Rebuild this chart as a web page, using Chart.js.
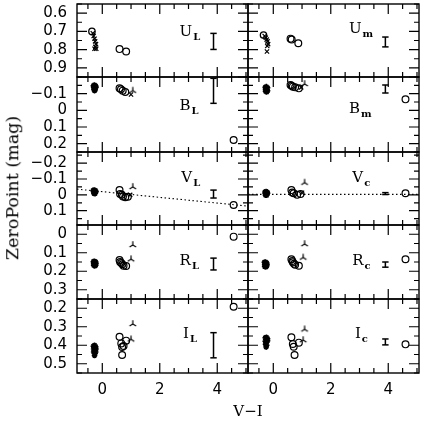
<!DOCTYPE html>
<html>
<head>
<meta charset="utf-8">
<script src="https://cdn.jsdelivr.net/npm/chart.js@4.4.0/dist/chart.umd.min.js"></script>
<style>
  body { margin: 0; background: #fff; }
  #wrap { position: relative; width: 423px; height: 423px; background: #fff; overflow: hidden; }
  #wrap canvas { position: absolute; left: 0; top: 0; }
  .ytitle { position: absolute; left: 13px; top: 188px; width: 0; height: 0; }
  .ytitle span { position: absolute; left: 0; top: 0; transform: translate(-50%, -50%) rotate(-90deg);
                 font: 17.5px/1 "DejaVu Serif"; white-space: nowrap; color: #000; }
  .xtitle { position: absolute; left: 248px; top: 411px; transform: translate(-50%, -50%);
            font: 15px/1 "DejaVu Serif"; white-space: nowrap; color: #000; }
</style>
</head>
<body>
<div id="wrap">
  <div class="ytitle"><span>ZeroPoint (mag)</span></div>
  <div class="xtitle">V−I</div>
</div>
<script>
// ---- data ----
const xRange = [-0.88, 5.07];
const xTicks = [0, 2, 4];

const bands = ['U', 'B', 'V', 'R', 'I'];
const yRanges = { U: [0.55, 0.95], B: [-0.2, 0.25], V: [-0.27, 0.19], R: [-0.05, 0.35], I: [0.15, 0.55] };
const yTicks = {
  U: [0.6, 0.7, 0.8, 0.9],
  B: [-0.1, 0, 0.1, 0.2],
  V: [-0.2, -0.1, 0, 0.1],
  R: [0, 0.1, 0.2, 0.3],
  I: [0.2, 0.3, 0.4, 0.5]
};
const leftNames = ['L', 'L', 'L', 'L', 'L'];
const rightNames = ['m', 'm', 'c', 'c', 'c'];

// per panel: stars (dense cluster), cross, ring, circ, tri, out, err [x, y, half], fit
const UL = {
  cross: [[-0.33, 0.71], [-0.3, 0.725], [-0.27, 0.74], [-0.25, 0.755], [-0.22, 0.77], [-0.24, 0.785], [-0.27, 0.795], [-0.21, 0.795]],
  ring: [[-0.36, 0.70]],
  circ: [[0.6, 0.797], [0.83, 0.81]],
  err: [3.87, 0.755, 0.044]
};
const UR = {
  cross: [[-0.3, 0.725], [-0.26, 0.735], [-0.23, 0.745], [-0.2, 0.755], [-0.18, 0.77], [-0.21, 0.78], [-0.22, 0.81]],
  ring: [[-0.34, 0.72]],
  circ: [[0.6, 0.74], [0.64, 0.745], [0.87, 0.765]],
  err: [3.9, 0.758, 0.027]
};
const BL = {
  stars: [[-0.31, -0.148], [-0.27, -0.152], [-0.23, -0.146], [-0.3, -0.138], [-0.26, -0.135], [-0.22, -0.138], [-0.29, -0.126], [-0.25, -0.124], [-0.27, -0.118]],
  circ: [[0.6, -0.132], [0.65, -0.126], [0.71, -0.118], [0.8, -0.11]],
  cross: [[1.0, -0.095]],
  tri: [[1.06, -0.118]],
  out: [[4.57, 0.178]],
  err: [3.87, -0.117, 0.075]
};
const BR = {
  stars: [[-0.28, -0.138], [-0.24, -0.142], [-0.2, -0.135], [-0.27, -0.126], [-0.23, -0.124], [-0.27, -0.114], [-0.23, -0.11], [-0.2, -0.118]],
  circ: [[0.6, -0.152], [0.64, -0.147], [0.68, -0.142], [0.76, -0.138], [0.89, -0.132]],
  cross: [[0.97, -0.138]],
  tri: [[1.09, -0.158]],
  out: [[4.6, -0.066]],
  err: [3.9, -0.128, 0.024]
};
const VL = {
  stars: [[-0.32, -0.028], [-0.28, -0.03], [-0.24, -0.027], [-0.3, -0.019], [-0.26, -0.017], [-0.22, -0.02], [-0.29, -0.009], [-0.25, -0.008]],
  circ: [[0.6, -0.03], [0.62, -0.005], [0.68, 0.0], [0.72, 0.01], [0.8, 0.015], [0.89, 0.012]],
  cross: [[0.97, 0.0]],
  tri: [[1.06, -0.05]],
  out: [[4.57, 0.064]],
  err: [3.87, -0.005, 0.025],
  fit: [[-0.88, -0.036], [5.07, 0.071]]
};
const VR = {
  stars: [[-0.29, -0.018], [-0.25, -0.021], [-0.21, -0.017], [-0.28, -0.008], [-0.24, -0.006], [-0.2, -0.01], [-0.27, 0.002], [-0.23, 0.003]],
  circ: [[0.63, -0.03], [0.66, -0.015], [0.71, -0.01], [0.83, 0.0], [0.95, -0.005]],
  cross: [[1.0, -0.013]],
  tri: [[1.09, -0.077]],
  out: [[4.6, -0.01]],
  err: [3.9, -0.008, 0.006],
  fit: [[-0.88, -0.003], [5.07, -0.003]]
};
const RL = {
  stars: [[-0.31, 0.148], [-0.27, 0.146], [-0.23, 0.15], [-0.3, 0.158], [-0.26, 0.16], [-0.22, 0.158], [-0.3, 0.168], [-0.26, 0.171], [-0.23, 0.167]],
  circ: [[0.6, 0.139], [0.62, 0.15], [0.66, 0.155], [0.7, 0.162], [0.74, 0.17], [0.83, 0.172]],
  tri: [[1.06, 0.058], [1.0, 0.135]],
  out: [[4.57, 0.013]],
  err: [3.87, 0.161, 0.032]
};
const RR = {
  stars: [[-0.31, 0.152], [-0.27, 0.15], [-0.23, 0.155], [-0.3, 0.163], [-0.26, 0.165], [-0.22, 0.163], [-0.3, 0.174], [-0.26, 0.177], [-0.23, 0.172]],
  circ: [[0.63, 0.135], [0.66, 0.145], [0.68, 0.152], [0.72, 0.16], [0.76, 0.165], [0.89, 0.17]],
  tri: [[1.09, 0.053], [1.04, 0.126]],
  out: [[4.6, 0.135]],
  err: [3.9, 0.164, 0.014]
};
const IL = {
  stars: [[-0.31, 0.405], [-0.27, 0.4], [-0.23, 0.408], [-0.3, 0.42], [-0.26, 0.425], [-0.22, 0.42], [-0.3, 0.437], [-0.26, 0.445], [-0.23, 0.437], [-0.27, 0.455]],
  circ: [[0.6, 0.354], [0.66, 0.39], [0.69, 0.41], [0.74, 0.404], [0.83, 0.375], [0.69, 0.453]],
  tri: [[1.06, 0.285], [1.0, 0.368]],
  out: [[4.57, 0.192]],
  err: [3.87, 0.40, 0.068]
};
const IR = {
  stars: [[-0.28, 0.36], [-0.24, 0.357], [-0.2, 0.365], [-0.28, 0.378], [-0.24, 0.382], [-0.2, 0.375], [-0.27, 0.395], [-0.23, 0.4], [-0.25, 0.41]],
  circ: [[0.63, 0.357], [0.68, 0.393], [0.71, 0.408], [0.89, 0.386], [0.74, 0.453]],
  tri: [[1.09, 0.314], [1.04, 0.372]],
  out: [[4.6, 0.395]],
  err: [3.9, 0.382, 0.016]
};
const panels = [[UL, UR], [BL, BR], [VL, VR], [RL, RR], [IL, IR]];

// ---- layout ----
const rowEdges = [4, 77, 152, 225, 299, 373];
const colEdges = [77, 248, 419];
const YW = 60, XH = 30;
const labelPos = [
  [[0.60, 0.44], [0.59, 0.40]],
  [[0.60, 0.44], [0.59, 0.48]],
  [[0.61, 0.41], [0.61, 0.41]],
  [[0.60, 0.54], [0.61, 0.54]],
  [[0.62, 0.53], [0.625, 0.53]]
];
const tickFont = { family: '"DejaVu Sans"', size: 15 };

const pts = arr => (arr || []).map(p => ({ x: p[0], y: p[1] }));
const fmt = v => v === 0 ? '0' : (v < 0 ? '\u2212' : '') + Math.abs(v).toFixed(1);

function triMarker() {
  const c = document.createElement('canvas');
  c.width = c.height = 10;
  const g = c.getContext('2d');
  g.strokeStyle = '#000';
  g.lineWidth = 1.2;
  [-90, 30, 150].forEach(a => {
    const t = a * Math.PI / 180;
    g.beginPath();
    g.moveTo(5, 5);
    g.lineTo(5 + 3.8 * Math.cos(t), 5 + 3.8 * Math.sin(t));
    g.stroke();
  });
  return c;
}
const tri = triMarker();

// frame with inward ticks on all four sides
const framePlugin = {
  id: 'frame',
  afterDatasetsDraw(chart) {
    const { ctx, chartArea: a, scales: { x, y } } = chart;
    ctx.save();
    ctx.strokeStyle = '#000';
    ctx.lineWidth = 1.4;
    ctx.strokeRect(a.left, a.top, a.right - a.left, a.bottom - a.top);
    ctx.lineWidth = 1.2;
    ctx.beginPath();
    for (let k = Math.ceil(x.min / 0.5); k * 0.5 <= x.max + 1e-9; k++) {
      const px = x.getPixelForValue(k * 0.5), L = k % 4 === 0 ? 10 : 5;
      ctx.moveTo(px, a.bottom); ctx.lineTo(px, a.bottom - L);
      ctx.moveTo(px, a.top); ctx.lineTo(px, a.top + L);
    }
    for (let k = Math.ceil(y.min / 0.05 - 1e-6); k * 0.05 <= y.max + 1e-9; k++) {
      const py = y.getPixelForValue(k * 0.05), L = k % 2 === 0 ? 10 : 5;
      ctx.moveTo(a.left, py); ctx.lineTo(a.left + L, py);
      ctx.moveTo(a.right, py); ctx.lineTo(a.right - L, py);
    }
    ctx.stroke();
    ctx.restore();
  }
};

const bandLabel = {
  id: 'bandLabel',
  afterDatasetsDraw(chart, args, opts) {
    const { ctx, chartArea: a } = chart;
    const x = a.left + opts.fx * (a.right - a.left);
    const y = a.top + opts.fy * (a.bottom - a.top);
    ctx.save();
    ctx.fillStyle = '#000';
    ctx.textBaseline = 'alphabetic';
    ctx.font = '15px "DejaVu Serif"';
    ctx.fillText(opts.main, x, y);
    const w = ctx.measureText(opts.main).width;
    ctx.font = 'bold 10px "DejaVu Serif"';
    ctx.fillText(opts.sub, x + w + 1, y + 4);
    ctx.restore();
  }
};

const wrap = document.getElementById('wrap');

bands.forEach((band, r) => {
  [0, 1].forEach(c => {
    const p = panels[r][c];
    const cv = document.createElement('canvas');
    cv.width = 423; cv.height = 423;
    wrap.insertBefore(cv, wrap.firstChild);

    const showX = r === 4, showY = c === 0;
    const datasets = [
      { data: pts(p.stars), pointStyle: 'star', pointRadius: 2.8, borderColor: '#000', borderWidth: 1.5 },
      { data: pts(p.cross), pointStyle: 'crossRot', pointRadius: 3, borderColor: '#000', borderWidth: 1.2 },
      { data: pts(p.ring), pointStyle: 'circle', pointRadius: 3.2, borderColor: '#000', backgroundColor: 'rgba(0,0,0,0)', borderWidth: 1.3 },
      { data: pts(p.circ), pointStyle: 'circle', pointRadius: 3.4, borderColor: '#000', backgroundColor: 'rgba(0,0,0,0)', borderWidth: 1.2 },
      { data: pts(p.tri), pointStyle: tri },
      { data: pts(p.out), pointStyle: 'circle', pointRadius: 3.4, borderColor: '#000', backgroundColor: 'rgba(0,0,0,0)', borderWidth: 1.2 },
      { data: [{ x: p.err[0], y: p.err[1] - p.err[2] }, { x: p.err[0], y: p.err[1] + p.err[2] }],
        showLine: true, borderColor: '#000', borderWidth: 1.5,
        pointStyle: 'line', pointRadius: 3.2, pointBorderWidth: 1.5, pointBorderColor: '#000' }
    ];
    if (p.fit) {
      datasets.push({ data: pts(p.fit), showLine: true, borderColor: '#000', borderWidth: 1.1,
        borderDash: [1.5, 2.5], pointRadius: 0 });
    }

    new Chart(cv, {
      type: 'scatter',
      data: { datasets },
      options: {
        responsive: false,
        animation: false,
        events: [],
        layout: {
          autoPadding: false,
          padding: {
            left: showY ? colEdges[0] - YW : colEdges[c],
            right: 423 - colEdges[c + 1],
            top: rowEdges[r],
            bottom: showX ? 423 - rowEdges[5] - XH : 423 - rowEdges[r + 1]
          }
        },
        plugins: {
          legend: { display: false },
          tooltip: { enabled: false },
          bandLabel: { main: band, sub: c === 0 ? leftNames[r] : rightNames[r], fx: labelPos[r][c][0], fy: labelPos[r][c][1] }
        },
        scales: {
          x: {
            type: 'linear', min: xRange[0], max: xRange[1], display: showX,
            afterBuildTicks: s => { s.ticks = xTicks.map(v => ({ value: v })); },
            afterFit: s => { if (showX) { s.height = XH; } s.paddingLeft = 0; s.paddingRight = 0; },
            grid: { display: false, drawTicks: false },
            border: { display: false },
            ticks: { font: tickFont, color: '#000', padding: 8, maxRotation: 0, autoSkip: false }
          },
          y: {
            type: 'linear', reverse: true, min: yRanges[band][0], max: yRanges[band][1], display: showY,
            afterBuildTicks: s => { s.ticks = yTicks[band].map(v => ({ value: v })); },
            afterFit: s => { if (showY) { s.width = YW; } s.paddingTop = 0; s.paddingBottom = 0; },
            grid: { display: false, drawTicks: false },
            border: { display: false },
            ticks: { font: tickFont, color: '#000', padding: 10, autoSkip: false, callback: v => fmt(v) }
          }
        }
      },
      plugins: [framePlugin, bandLabel]
    });
  });
});
</script>
</body>
</html>
